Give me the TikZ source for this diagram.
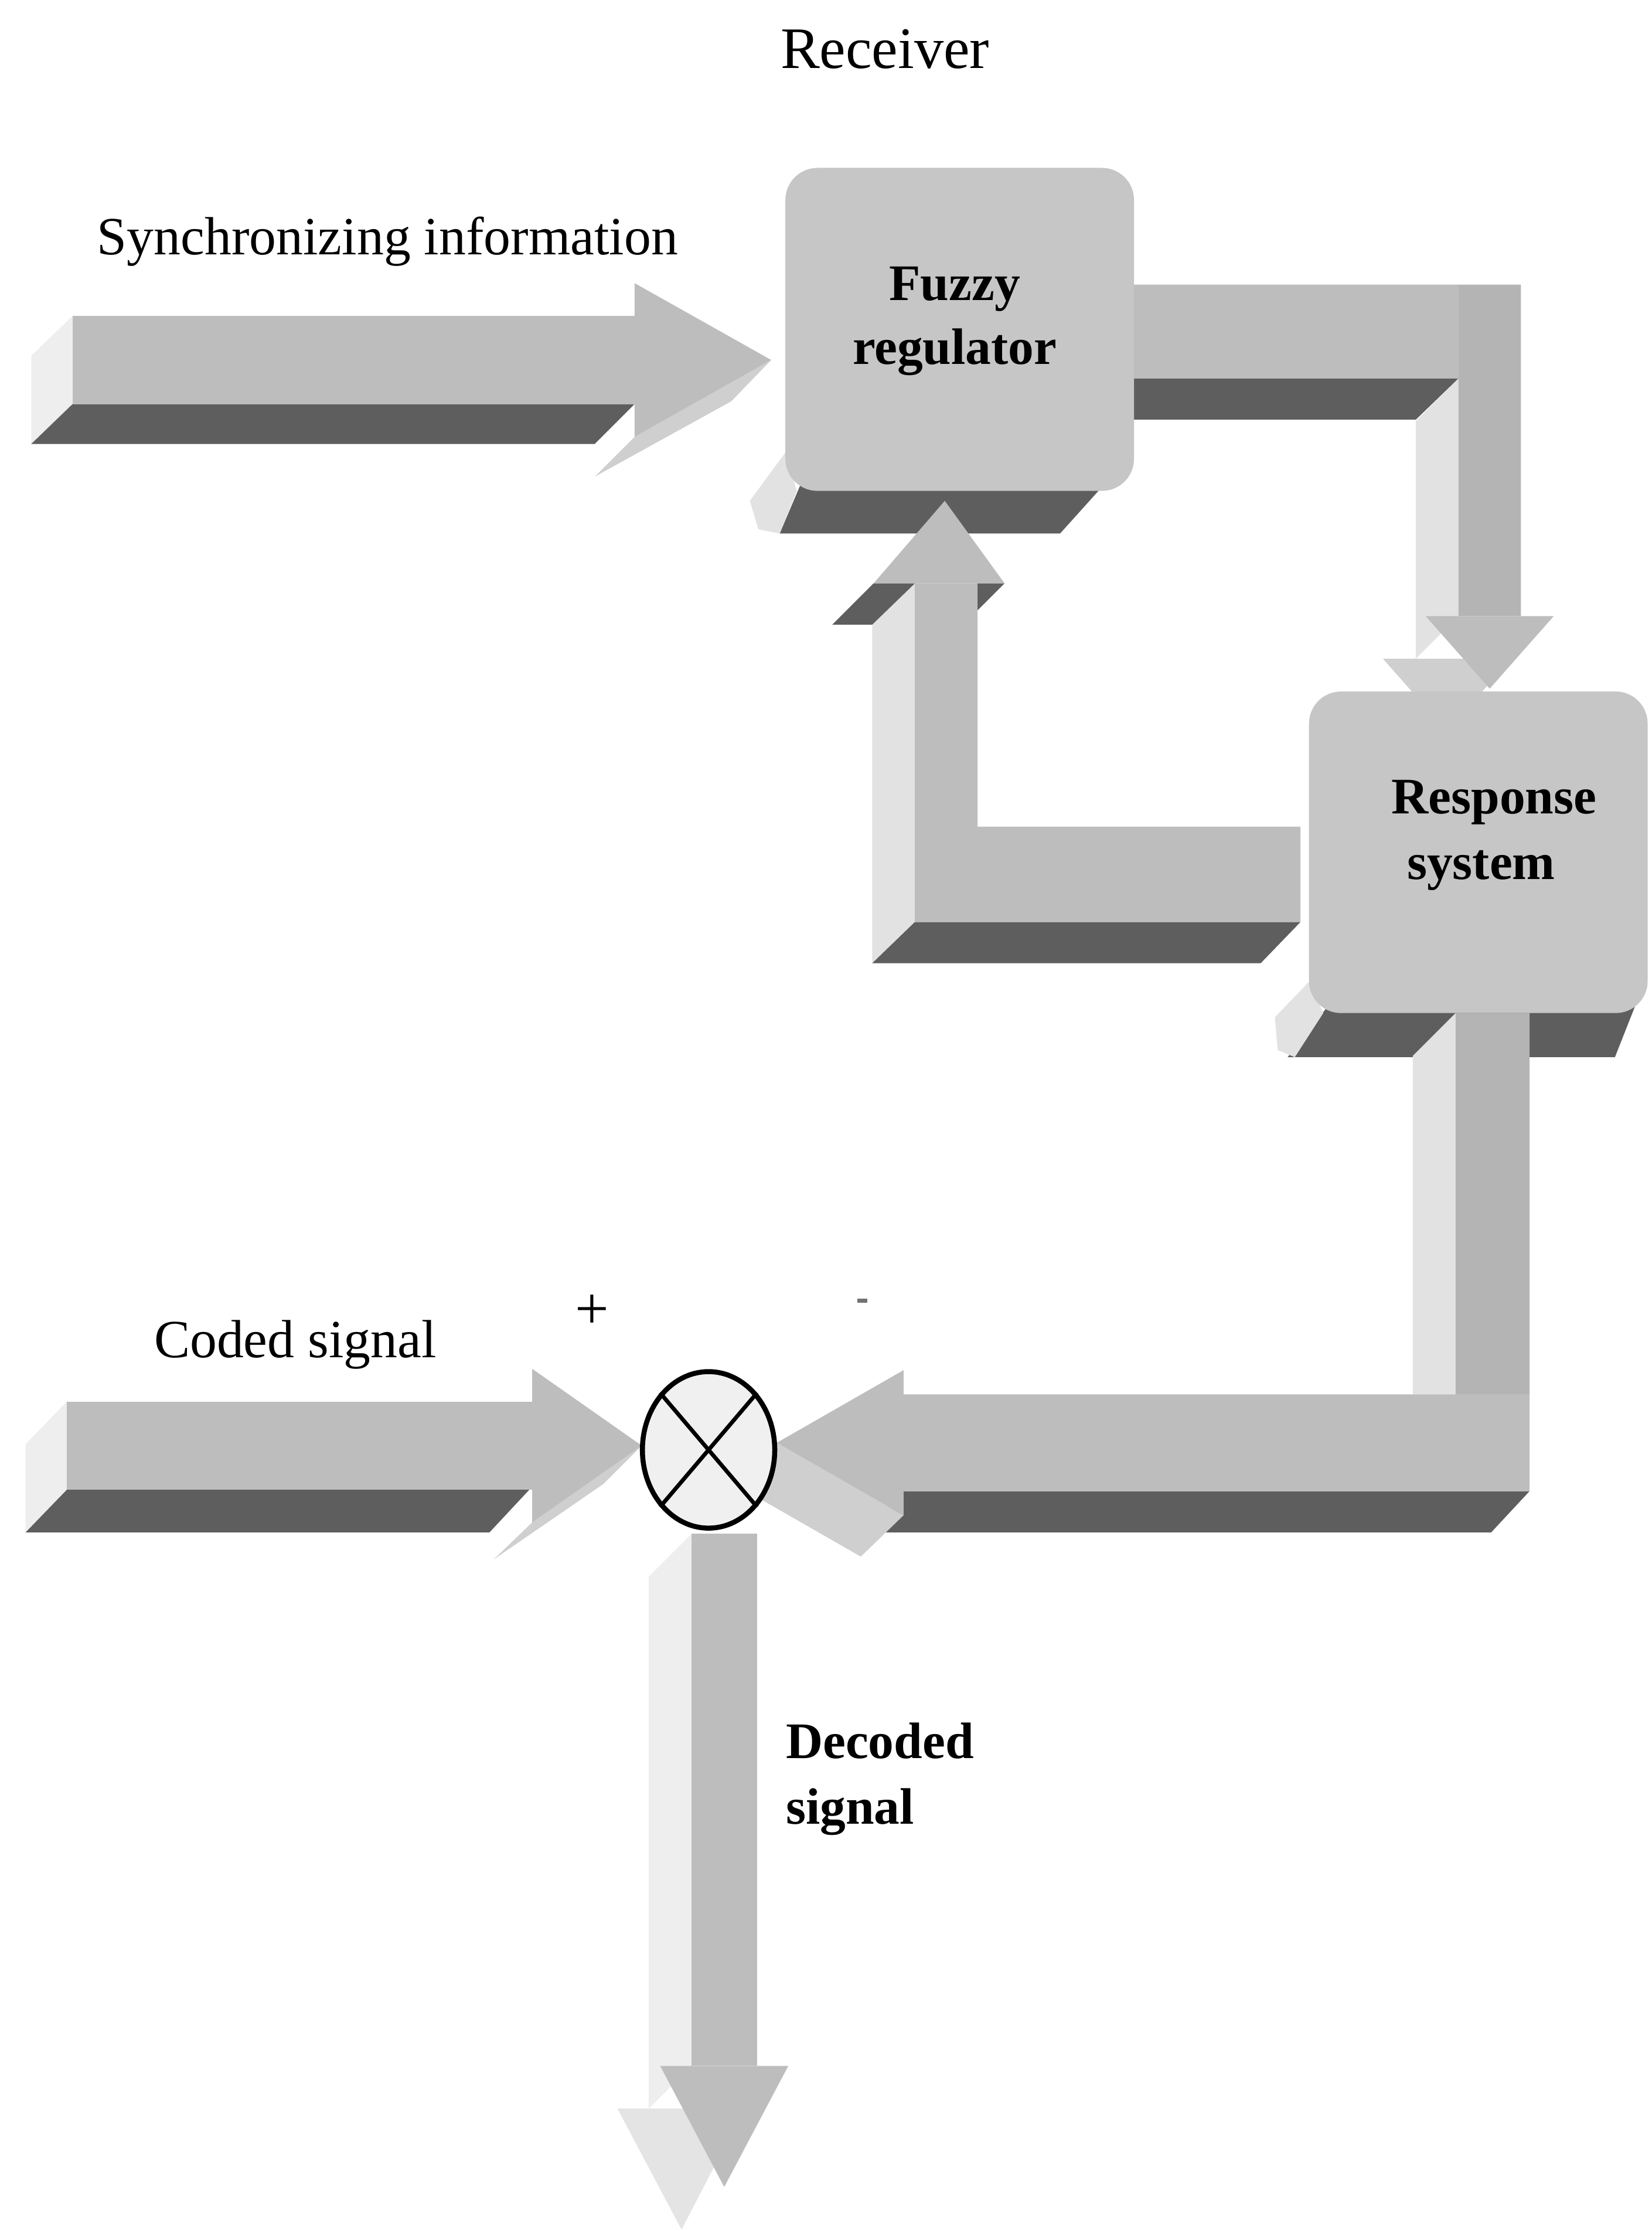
\documentclass[tikz,border=0pt]{standalone}
\usepackage{fontspec}
\setmainfont{Liberation Serif}
\usetikzlibrary{shapes.geometric}
\definecolor{arrowface}{HTML}{BDBDBD}
\definecolor{boxface}{HTML}{C6C6C6}
\definecolor{darkside}{HTML}{5E5E5E}
\definecolor{lightside}{HTML}{E2E2E2}
\definecolor{headside}{HTML}{CFCFCF}
\definecolor{endface}{HTML}{EEEEEE}
\begin{document}
\begin{tikzpicture}[x=0.02cm,y=-0.02cm,
  face/.style={fill=arrowface},
  vface/.style={fill=arrowface!95!black},
  bface/.style={fill=boxface,rounded corners=0.45cm},
  dark/.style={fill=darkside},
  light/.style={fill=lightside},
  hside/.style={fill=headside},
  endf/.style={fill=endface},
  lbl/.style={inner sep=0pt,font=\fontsize{21.5}{26}\selectfont},
  blbl/.style={inner sep=0pt,font=\fontsize{20.5}{25}\selectfont\bfseries},
  sumj/.style={ellipse,draw=black,line width=2pt,fill=white!94!black,
    minimum width=93*0.02cm,minimum height=110*0.02cm,inner sep=0pt}]
\useasboundingbox (0,0) rectangle (1161,1568);

% ---- synchronizing input arrow
\fill[endf] (51,222) -- (51,284) -- (22,312) -- (22,250) -- cycle;
\fill[dark] (51,284) -- (446,284) -- (418,312) -- (22,312) -- cycle;
\fill[hside] (542,253) -- (446,307) -- (418,335) -- (514,282) -- cycle;
\fill[face] (51,222) rectangle (446,284);
\fill[face] (446,199) -- (542,253) -- (446,307) -- cycle;

% ---- regulator output arrow, bending down to the response system
\fill[dark] (797,266) -- (1025,266) -- (995,295) -- (797,295) -- cycle;
\fill[light] (1025,266) -- (1025,433) -- (995,463) -- (995,296) -- cycle;
\fill[hside] (972,463) -- (1062,463) -- (1017,514) -- cycle;
\fill[face] (790,200) -- (1069,200) -- (1069,433) -- (1025,433) -- (1025,266) -- (790,266) -- cycle;
\fill[vface] (1025,200) rectangle (1069,433);
\fill[face] (1002,433) -- (1092,433) -- (1047,484) -- cycle;

% ---- fuzzy regulator block
\fill[darkside] (565,335) -- (790,335) -- (772,345) -- (745,375) -- (548,375) -- cycle;
\fill[lightside] (552,318) -- (560,345) -- (548,375) -- (533,372) -- (527,352) -- cycle;
\fill[bface] (552,118) rectangle (797,345);
\node[blbl,anchor=base] (fz1) at (671,211) {Fuzzy};
\node[blbl,anchor=base] (fz2) at (671,256) {regulator};

% ---- feedback arrow from the response system up to the regulator
\fill[light] (643,410) -- (643,648) -- (613,677) -- (613,439) -- cycle;
\fill[dark] (614,410) -- (643,410) -- (613,439) -- (585,439) -- cycle;
\fill[dark] (687,410) -- (706,410) -- (677,439) -- (658,439) -- cycle;
\fill[dark] (643,648) -- (914,648) -- (886,677) -- (613,677) -- cycle;
\fill[face] (643,410) -- (687,410) -- (687,581) -- (914,581) -- (914,648) -- (643,648) -- cycle;
\fill[face] (614,410) -- (706,410) -- (664,352) -- cycle;

% ---- response system block
\fill[darkside] (935,705) -- (1150,705) -- (1135,743) -- (905,743) -- cycle;
\fill[lightside] (920,690) -- (930,712) -- (910,743) -- (898,738) -- (896,715) -- cycle;
\fill[bface] (920,486) rectangle (1158,712);
\node[blbl,anchor=base] (rs1) at (1050,572) {Response};
\node[blbl,anchor=base] (rs2) at (1041,618) {system};

% ---- arrow from the response system back to the comparator
\fill[light] (1023,712) -- (1023,980) -- (993,980) -- (993,742) -- cycle;
\fill[dark] (635,1048) -- (1075,1048) -- (1048,1077) -- (605,1077) -- cycle;
\fill[hside] (546,1014) -- (635,1065) -- (605,1094) -- (516,1043) -- cycle;
\fill[face] (1023,712) -- (1075,712) -- (1075,1048) -- (635,1048) -- (635,980) -- (1023,980) -- cycle;
\fill[vface] (1023,712) rectangle (1075,980);
\fill[face] (635,963) -- (546,1014) -- (635,1065) -- cycle;

% ---- coded signal input arrow
\fill[endf] (47,985) -- (47,1047) -- (18,1077) -- (18,1015) -- cycle;
\fill[dark] (47,1047) -- (372,1047) -- (344,1077) -- (18,1077) -- cycle;
\fill[hside] (451,1016) -- (374,1070) -- (347,1096) -- (424,1043) -- cycle;
\fill[face] (47,985) rectangle (374,1047);
\fill[face] (374,962) -- (451,1016) -- (374,1070) -- cycle;

% ---- decoded signal output arrow
\fill[endface] (486,1078) -- (486,1452) -- (456,1482) -- (456,1108) -- cycle;
\fill[fill=endface!96!black] (434,1482) -- (523,1482) -- (479,1567) -- cycle;
\fill[face] (486,1078) rectangle (532,1452);
\fill[face] (464,1452) -- (554,1452) -- (509,1537) -- cycle;

% ---- comparator
\node[sumj] (sum) at (498,1019) {};
\draw[line width=1.6pt] (sum.north west) -- (sum.south east)
  (sum.north east) -- (sum.south west);

% ---- labels
\node[lbl,anchor=base] (recv) at (622,48) {\fontsize{23.5}{28}\selectfont Receiver};
\node[lbl,anchor=base west] (sync) at (68,179) {Synchronizing information};
\node[lbl,anchor=base west] (coded) at (108,954) {Coded signal};
\node[lbl,anchor=center] (plus) at (416,922) {\fontsize{24}{28}\selectfont +};
\node[inner sep=0pt,fill=black!55,minimum width=7*0.02cm,minimum height=3*0.02cm] (minus) at (606,914) {};
\node[blbl,anchor=base west] (dec1) at (552,1236) {Decoded};
\node[blbl,anchor=base west] (dec2) at (552,1282) {signal};
\end{tikzpicture}
\end{document}
